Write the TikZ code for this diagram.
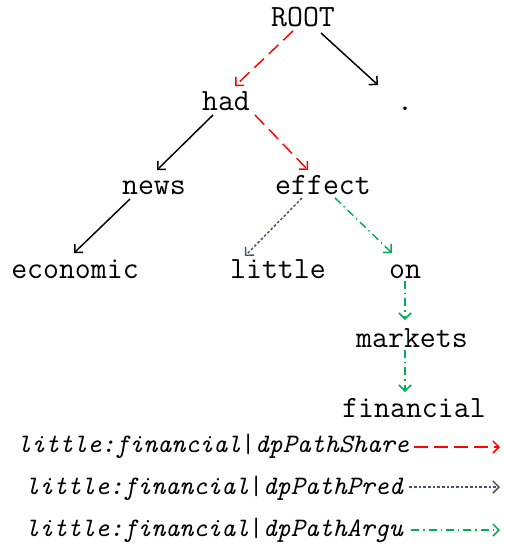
\documentclass[tikz,border=0pt]{standalone}
\usepackage{fontspec}
\usetikzlibrary{calc,arrows.meta}
\definecolor{pathRojo}{HTML}{FF0000}
\definecolor{pathAzul}{HTML}{44546A}
\definecolor{pathVerde}{HTML}{00B050}
\tikzset{
  palabra/.style={font=\ttfamily\fontsize{23.2}{25}\selectfont,inner sep=0pt,anchor=base},
  leyenda/.style={font=\ttfamily\itshape\fontsize{20}{22}\selectfont,inner sep=0pt,anchor=base west},
  dep/.style={->,black,line width=1.1pt},
  share/.style={->,pathRojo,line width=1.1pt,dash pattern=on 10pt off 5pt},
  pred/.style={->,pathAzul,line width=1.1pt,dash pattern=on 2pt off 1.5pt},
  argu/.style={->,pathVerde,line width=1.1pt,dash pattern=on 6pt off 3pt on 1pt off 3pt},
}
\begin{document}
\begin{tikzpicture}[x=0.75pt,y=-0.75pt,>={Straight Barb[length=4.5pt,width=9pt]}]
        \useasboundingbox (0,0) rectangle (505,544);
        % arbol de dependencias
        \node[palabra] (root) at (303,26) {ROOT};
        \node[palabra] (had) at (226,110) {had};
        \node[palabra] (punto) at (405,110) {.};
        \node[palabra] (news) at (154,194) {news};
        \node[palabra] (effect) at (323,194) {effect};
        \node[palabra] (economic) at (75,278) {economic};
        \node[palabra] (little) at (278,278) {little};
        \node[palabra] (on) at (405,278) {on};
        \node[palabra] (markets) at (412,347) {markets};
        \node[palabra] (financial) at (414,417) {financial};
        \draw[share] ($(root.base)+(-10,5)$) -- ($(had.base)+(9,-24)$);
        \draw[dep] ($(root.base)+(18,7)$) -- ($(punto.base)+(-27,-25)$);
        \draw[dep] ($(had.base)+(-13,5)$) -- ($(news.base)+(3,-24)$);
        \draw[share] ($(had.base)+(29,5)$) -- ($(effect.base)+(-15,-24)$);
        \draw[dep] ($(news.base)+(-24,5)$) -- ($(economic.base)+(-1,-25)$);
        \draw[pred] ($(effect.base)+(-21,4)$) -- ($(little.base)+(-33,-22)$);
        \draw[argu] ($(effect.base)+(12,4)$) -- ($(on.base)+(-13,-25)$);
        \draw[argu] ($(on.base)+(0,3)$) -- ($(markets.base)+(-7,-27)$);
        \draw[argu] ($(markets.base)+(-7,3)$) -- ($(financial.base)+(-9,-25)$);
        % leyenda
        \node[leyenda] (leg1) at (17,452) {little:financial\textup{|}dpPathShare};
        \node[leyenda] (leg2) at (25,494) {little:financial\textup{|}dpPathPred};
        \node[leyenda] (leg3) at (25,536) {little:financial\textup{|}dpPathArgu};
        \coordinate (fin1) at (500,447);
        \coordinate (fin2) at (500,487);
        \coordinate (fin3) at (500,530);
        \draw[share] (leg1.base east |- fin1) ++(5,0) -- (fin1);
        \draw[pred] (leg2.base east |- fin2) ++(6,0) -- (fin2);
        \draw[argu] (leg3.base east |- fin3) ++(8,0) -- (fin3);
      \end{tikzpicture}
\end{document}
